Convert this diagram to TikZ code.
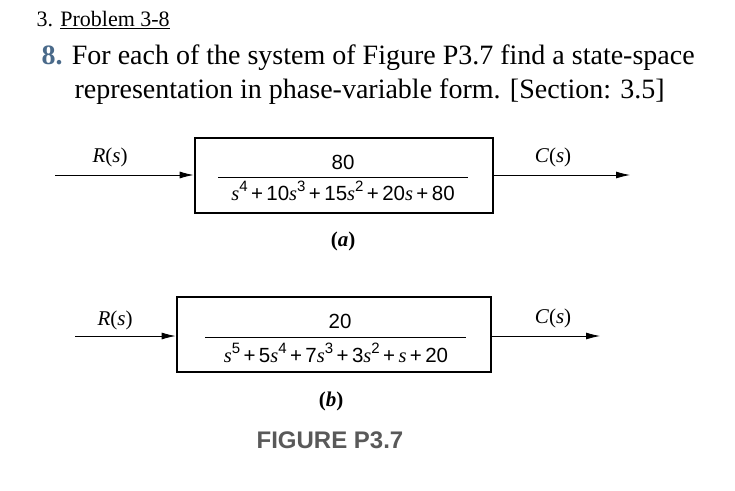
\documentclass[tikz,border=0pt]{standalone}
\usepackage{fontspec}
\setmainfont{Liberation Serif}
\newfontfamily\nums{Liberation Sans}
\usetikzlibrary{arrows.meta}
\newcommand{\pw}[1]{\raisebox{0.45em}{\fontsize{15}{15}\selectfont\nums #1}}
\begin{document}
\begin{tikzpicture}[x=1pt,y=-1pt,
 blk/.style={draw,line width=2.8pt},
 sig/.style={-{Latex[length=14pt,width=7pt]},line width=0.8pt},
 lab/.style={font=\fontsize{21}{21}\selectfont},
 eq/.style={font=\fontsize{20.5}{20.5}\selectfont}]
\useasboundingbox (0,0) rectangle (735,490);
\node[anchor=west,font=\fontsize{22}{22}\selectfont] (t1) at (33,20) {3. \underline{Problem 3-8}};
\node[anchor=west,font=\fontsize{28}{28}\selectfont] (t2) at (38,58) {\textcolor[HTML]{4A6A8A}{\textbf{8.}} For each of the system of Figure P3.7 find a state-space};
\node[anchor=west,font=\fontsize{28}{28}\selectfont] (t3) at (71,92) {representation in phase-variable form. [Section: 3.5]};
% (a)
\node[blk,minimum width=298pt,minimum height=75pt] (ba) at (344,175.5) {};
\coordinate (ia) at (55,175); \coordinate (oa) at (630,175);
\draw[sig] (ia) -- (ia -| ba.west);
\draw[sig] (oa -| ba.east) -- (oa);
\node[lab] (ra) at (110,157) {\textit{R}(\textit{s})};
\node[lab] (ca) at (553,157) {\textit{C}(\textit{s})};
\node[eq] (na) at (343,162) {\nums 80};
\draw[line width=0.7pt] (218,177) -- (468,177);
\node[eq] (da) at (343,191) {\textit{s}\pw{4}{\nums\,+\,10}\textit{s}\pw{3}{\nums\,+\,15}\textit{s}\pw{2}{\nums\,+\,20}\textit{s}{\nums\,+\,80}};
\node[lab] (la) at (343,241) {\textbf{(\textit{a})}};
% (b)
\node[blk,minimum width=314pt,minimum height=75pt] (bb) at (334,334.5) {};
\coordinate (ib) at (75,336); \coordinate (ob) at (600,336);
\draw[sig] (ib) -- (ib -| bb.west);
\draw[sig] (ob -| bb.east) -- (ob);
\node[lab] (rb) at (115,320) {\textit{R}(\textit{s})};
\node[lab] (cb) at (553,318) {\textit{C}(\textit{s})};
\node[eq] (nb) at (340,321) {\nums 20};
\draw[line width=0.7pt] (205,337) -- (466,337);
\node[eq] (db) at (336,353) {\textit{s}\pw{5}{\nums\,+\,5}\textit{s}\pw{4}{\nums\,+\,7}\textit{s}\pw{3}{\nums\,+\,3}\textit{s}\pw{2}{\nums\,+\,}\textit{s}{\nums\,+\,20}};
\node[lab] (lb) at (331,401) {\textbf{(\textit{b})}};
\node[font=\fontsize{24}{24}\selectfont\nums\bfseries,text=black!65] (fig) at (330,440) {FIGURE P3.7};
\end{tikzpicture}
\end{document}
